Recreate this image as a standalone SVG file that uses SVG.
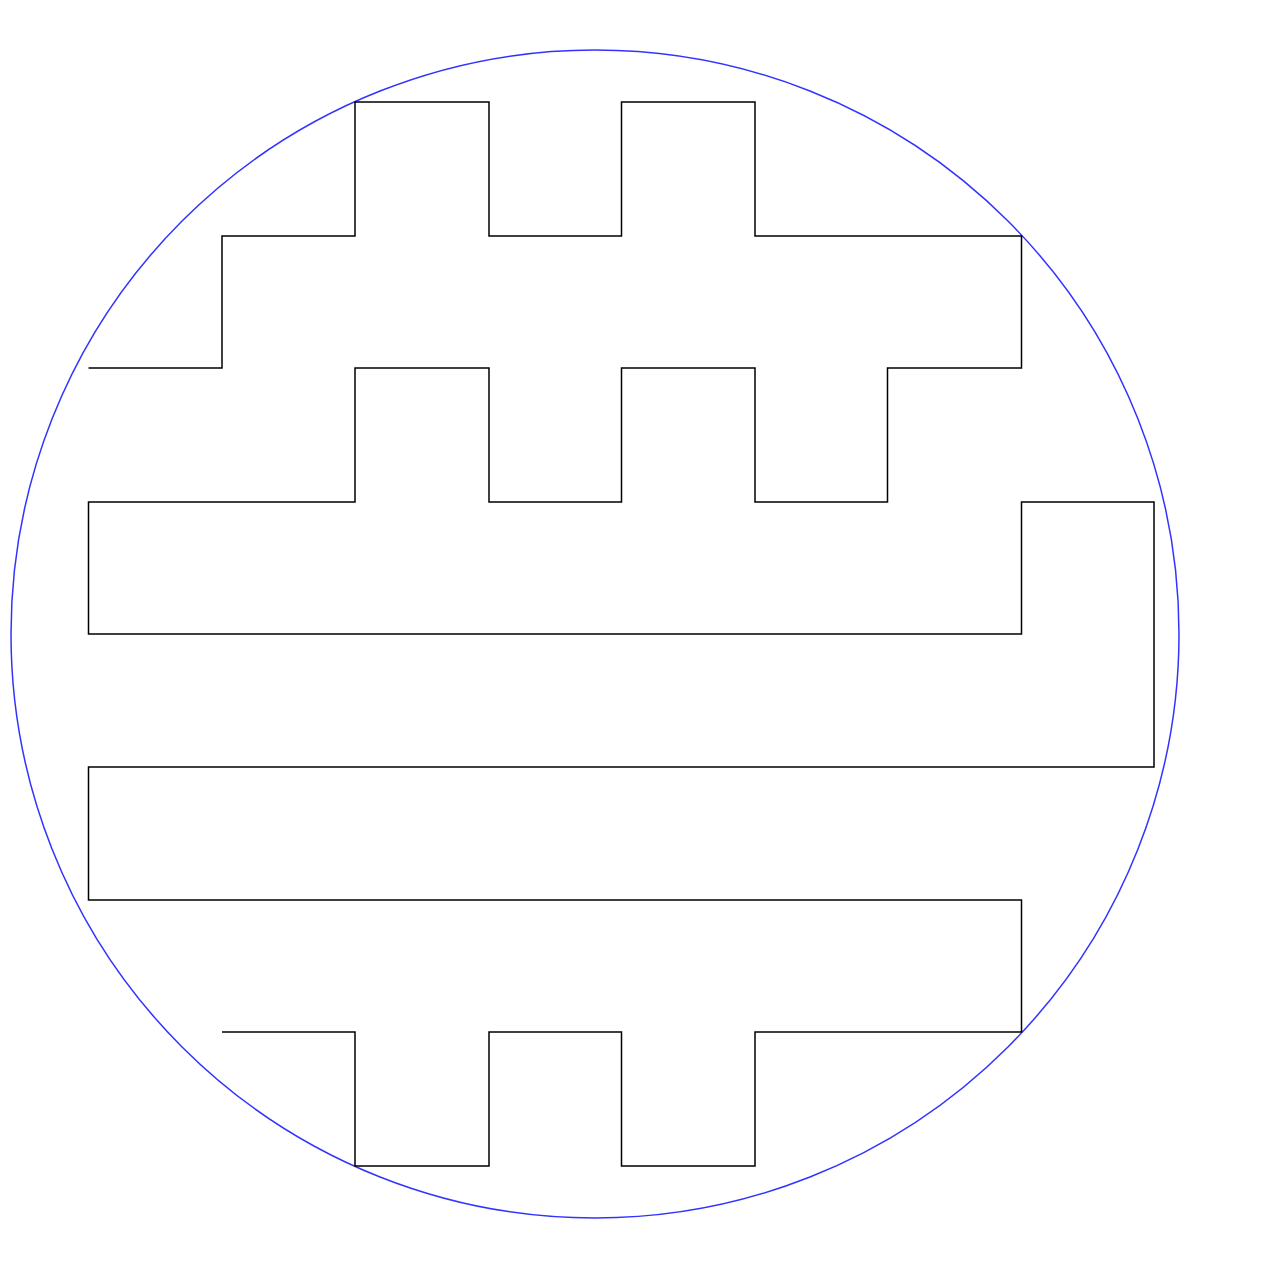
<svg xmlns="http://www.w3.org/2000/svg" width="1270" height="1271" viewBox="0 0 1270 1271">
<style>
.circle{fill:none;stroke:#3333ff;stroke-width:1.5}
.maze{fill:none;stroke:#000;stroke-width:1.5;stroke-linejoin:miter}
</style>
<rect width="1270" height="1271" fill="#fff"/>
<g id="boundary">
<circle class="circle" cx="595" cy="634" r="584"/>
</g>
<g id="connectors">
<polyline class="maze" points="88.5,368 222,368 222,236 355,236 355,102 489,102 489,236 621.5,236 621.5,102 755,102 755,236 1021.5,236 1021.5,368 887.5,368 887.5,502 755,502 755,368 621.5,368 621.5,502 489,502 489,368 355,368 355,502 88.5,502 88.5,634 1021.5,634 1021.5,502 1154,502 1154,767 88.5,767 88.5,900 1021.5,900 1021.5,1032 755,1032 755,1166 621.5,1166 621.5,1032 489,1032 489,1166 355,1166 355,1032 222,1032"/>
</g>
</svg>
